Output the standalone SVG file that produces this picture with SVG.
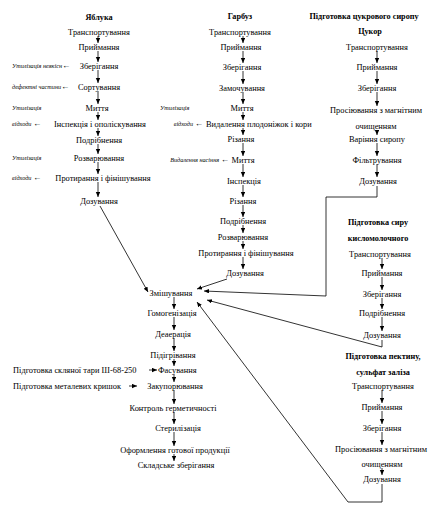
<svg xmlns="http://www.w3.org/2000/svg" width="448" height="511" viewBox="0 0 448 511">
<defs>
<marker id="ah" markerUnits="userSpaceOnUse" markerWidth="6" markerHeight="6" refX="5" refY="2.2" orient="auto">
<path d="M0,0 L5,2.2 L0,4.4 z" fill="#000"/>
</marker>
<style>
text{font-family:"Liberation Serif","Times New Roman",serif;fill:#000}
.t{font-size:8.4px;text-anchor:middle}
.l{font-size:8.4px}
.b{font-size:8.2px;font-weight:bold;text-anchor:middle}
.i{font-size:6.2px;font-style:italic}
.e{text-anchor:end}
.a{font-size:8.4px;font-style:normal}
.c{stroke:#000;stroke-width:0.8;fill:none}
.v{stroke:#000;stroke-width:0.8;fill:none;marker-end:url(#ah)}
</style>
</defs>
<rect width="448" height="511" fill="#fff"/>

<g id="apple">
<text class="b" x="99" y="20">Яблука</text>
<text class="t" x="99" y="35">Транспортування</text>
<text class="t" x="99" y="50">Приймання</text>
<text class="t" x="99" y="69">Зберігання</text>
<text class="t" x="99" y="90">Сортування</text>
<text class="t" x="97" y="111">Миття</text>
<text class="t" x="100" y="127">Інспекція і ополіскування</text>
<text class="t" x="99" y="143">Подрібнення</text>
<text class="t" x="99" y="161">Розварювання</text>
<text class="t" x="103" y="181">Протирання і фінішування</text>
<text class="t" x="99" y="204">Дозування</text>
<text class="i" x="12" y="68">Утилізація неякісн<tspan class="a">←</tspan></text>
<text class="i" x="12" y="89">дефектні частини<tspan class="a">←</tspan></text>
<text class="i" x="12" y="110">Утилізація</text>
<text class="i" x="12" y="126">відходи <tspan class="a">←</tspan></text>
<text class="i" x="12" y="160">Утилізація</text>
<text class="i" x="12" y="180">відходи <tspan class="a">←</tspan></text>
</g>

<g id="pumpkin">
<text class="b" x="240" y="19">Гарбуз</text>
<text class="t" x="240" y="35">Транспортування</text>
<text class="t" x="241" y="50">Приймання</text>
<text class="t" x="242" y="70">Зберігання</text>
<text class="t" x="242" y="91">Замочування</text>
<text class="t" x="242" y="111">Миття</text>
<text class="l" x="206" y="127">Видалення плодоніжок і кори</text>
<text class="t" x="241" y="142">Різання</text>
<text class="t" x="243" y="163">Миття</text>
<text class="t" x="244" y="184">Інспекція</text>
<text class="t" x="243" y="204">Різання</text>
<text class="t" x="243" y="224">Подрібнення</text>
<text class="t" x="243" y="240">Розварювання</text>
<text class="t" x="246" y="256">Протирання і фінішування</text>
<text class="t" x="245" y="276">Дозування</text>
<text class="i" x="160" y="110">Утилізація</text>
<text class="i e" x="203" y="126">відходи <tspan class="a">←</tspan></text>
<text class="i e" x="229" y="162">Видалення насіння <tspan class="a">←</tspan></text>
</g>

<g id="syrup">
<text class="b" x="364" y="19">Підготовка цукрового сиропу</text>
<text class="b" x="370" y="34">Цукор</text>
<text class="t" x="377" y="50">Транспортування</text>
<text class="t" x="377" y="70">Приймання</text>
<text class="t" x="377" y="91">Зберігання</text>
<text class="t" x="376" y="113">Просіювання з магнітним</text>
<text class="t" x="376" y="129">очищенням</text>
<text class="t" x="377" y="142">Варіння сиропу</text>
<text class="t" x="377" y="163">Фільтрування</text>
<text class="t" x="378" y="184">Дозування</text>
</g>

<g id="cheese">
<text class="b" x="378" y="225">Підготовка сиру</text>
<text class="b" x="378" y="241">кисломолочного</text>
<text class="t" x="380" y="257">Транспортування</text>
<text class="t" x="382" y="276">Приймання</text>
<text class="t" x="382" y="297">Зберігання</text>
<text class="t" x="382" y="316">Подрібнення</text>
<text class="t" x="382" y="338">Дозування</text>
</g>

<g id="pectin">
<text class="b" x="383" y="359">Підготовка пектину,</text>
<text class="b" x="383" y="375">сульфат заліза</text>
<text class="t" x="383" y="389">Транспортування</text>
<text class="t" x="382" y="410">Приймання</text>
<text class="t" x="382" y="431">Зберігання</text>
<text class="t" x="381" y="452">Просіювання з магнітним</text>
<text class="t" x="382" y="467">очищенням</text>
<text class="t" x="382" y="482">Дозування</text>
</g>

<g id="main">
<text class="t" x="171" y="296">Змішування</text>
<text class="t" x="172" y="316">Гомогенізація</text>
<text class="t" x="173" y="337">Деаерація</text>
<text class="t" x="173" y="358">Підігрівання</text>
<text class="l" x="158" y="373">Фасування</text>
<text class="t" x="175" y="389">Закупорювання</text>
<text class="t" x="173" y="411">Контроль герметичності</text>
<text class="t" x="178" y="431">Стерилізація</text>
<text class="t" x="175" y="453">Оформлення готової продукції</text>
<text class="t" x="176" y="468">Складське зберігання</text>
<text class="l" x="13" y="373">Підготовка скляної тари  Ш-68-250</text>
<text class="l" x="13" y="389">Підготовка металевих кришок</text>
</g>

<g id="connectors">
<line class="v" x1="98" y1="36" x2="98" y2="43"/>
<line class="v" x1="98" y1="51" x2="98" y2="62"/>
<line class="v" x1="98" y1="70" x2="98" y2="83"/>
<line class="v" x1="98" y1="91" x2="98" y2="104"/>
<line class="v" x1="98" y1="112" x2="98" y2="120"/>
<line class="v" x1="98" y1="128" x2="98" y2="136"/>
<line class="v" x1="98" y1="144" x2="98" y2="154"/>
<line class="v" x1="98" y1="162" x2="98" y2="174"/>
<line class="v" x1="98" y1="182" x2="98" y2="197"/>
<line class="v" x1="243" y1="36" x2="243" y2="43"/>
<line class="v" x1="243" y1="51" x2="243" y2="63"/>
<line class="v" x1="243" y1="71" x2="243" y2="84"/>
<line class="v" x1="243" y1="92" x2="243" y2="104"/>
<line class="v" x1="243" y1="112" x2="243" y2="120"/>
<line class="v" x1="243" y1="128" x2="243" y2="135"/>
<line class="v" x1="243" y1="143" x2="243" y2="156"/>
<line class="v" x1="243" y1="164" x2="243" y2="177"/>
<line class="v" x1="243" y1="185" x2="243" y2="197"/>
<line class="v" x1="243" y1="205" x2="243" y2="217"/>
<line class="v" x1="243" y1="225" x2="243" y2="233"/>
<line class="v" x1="243" y1="241" x2="243" y2="249"/>
<line class="v" x1="243" y1="257" x2="243" y2="269"/>
<line class="v" x1="377" y1="51" x2="377" y2="63"/>
<line class="v" x1="377" y1="71" x2="377" y2="84"/>
<line class="v" x1="377" y1="92" x2="377" y2="106"/>
<line class="v" x1="377" y1="130" x2="377" y2="135"/>
<line class="v" x1="377" y1="143" x2="377" y2="156"/>
<line class="v" x1="377" y1="164" x2="377" y2="177"/>
<line class="v" x1="382" y1="258" x2="382" y2="269"/>
<line class="v" x1="382" y1="277" x2="382" y2="290"/>
<line class="v" x1="382" y1="298" x2="382" y2="309"/>
<line class="v" x1="382" y1="317" x2="382" y2="331"/>
<line class="v" x1="382" y1="390" x2="382" y2="403"/>
<line class="v" x1="382" y1="411" x2="382" y2="424"/>
<line class="v" x1="382" y1="432" x2="382" y2="445"/>
<line class="v" x1="382" y1="468" x2="382" y2="475"/>
<line class="v" x1="174" y1="297" x2="174" y2="309"/>
<line class="v" x1="174" y1="317" x2="174" y2="330"/>
<line class="v" x1="174" y1="338" x2="174" y2="351"/>
<line class="v" x1="174" y1="359" x2="174" y2="366"/>
<line class="v" x1="174" y1="374" x2="174" y2="382"/>
<line class="v" x1="174" y1="390" x2="174" y2="404"/>
<line class="v" x1="174" y1="412" x2="174" y2="424"/>
<line class="v" x1="174" y1="432" x2="174" y2="446"/>
<line class="v" x1="174" y1="454" x2="174" y2="461"/>
<line class="v" x1="149" y1="370" x2="157" y2="370"/>
<line class="v" x1="129" y1="386" x2="137" y2="386"/>
<line class="v" x1="100" y1="206" x2="148" y2="292"/>
<line class="v" x1="227" y1="279" x2="197" y2="289"/>
<polyline class="v" points="377,186 377,197 326,197 326,296 204,291"/>
<polyline class="v" points="382,340 382,347 207,300"/>
<polyline class="v" points="382,484 382,502 348,502 197,302"/>
</g>
</svg>
